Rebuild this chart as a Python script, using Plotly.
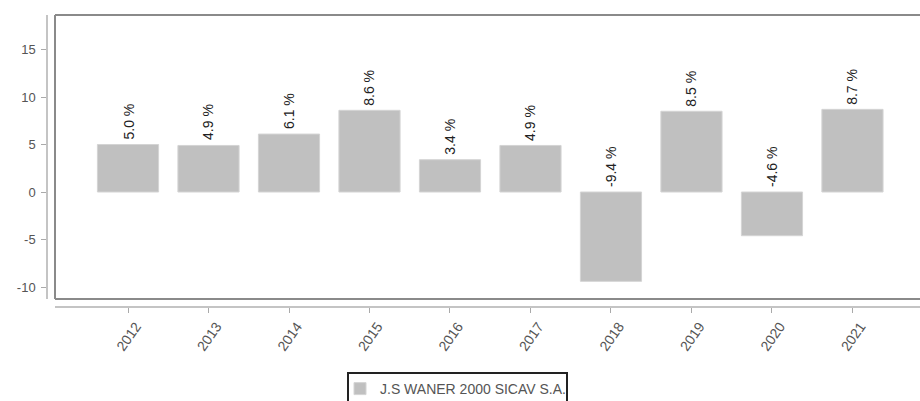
import plotly.graph_objects as go

years = ["2012", "2013", "2014", "2015", "2016", "2017", "2018", "2019", "2020", "2021"]
returns = [5.0, 4.9, 6.1, 8.6, 3.4, 4.9, -9.4, 8.5, -4.6, 8.7]
series_name = "J.S WANER 2000 SICAV S.A."
y_ticks = [-10, -5, 0, 5, 10, 15]
y_tick_text = ["-10", "-5", "0", "5", "10", "15"]

W, H = 920, 412
px_x = lambda p: p / W
px_y = lambda p: 1 - p / H

x0, x1 = 55, 920
yt, yb = 15, 299

idx = list(range(len(years)))

fig = go.Figure()
fig.add_trace(go.Bar(
    x=idx, y=returns, name=series_name,
    marker=dict(color="#c0c0c0", line=dict(color="#d4d4d4", width=1)),
    showlegend=True,
))

for i, v in zip(idx, returns):
    fig.add_annotation(
        x=i, y=max(v, 0), xref="x", yref="y",
        text=f"{v:.1f} %", textangle=-90, showarrow=False,
        yanchor="bottom", xanchor="center", yshift=3,
        font=dict(family="Liberation Sans", size=14, color="#222"),
    )

# inner box (top, left, bottom)
box_col = "#8a8a8a"
for (xa, ya, xb, yb_) in [(x0, yt, x1 + 5, yt), (x0, yt, x0, yb), (x0, yb, x1 + 5, yb)]:
    fig.add_shape(type="line", xref="paper", yref="paper",
                  x0=px_x(xa), y0=px_y(ya), x1=px_x(xb), y1=px_y(yb_),
                  line=dict(color=box_col, width=2))

# legend frame
fig.add_shape(type="rect", xref="paper", yref="paper",
              x0=px_x(348), y0=px_y(373), x1=px_x(567), y1=px_y(410),
              line=dict(color="#222", width=2), fillcolor="rgba(0,0,0,0)")

fig.update_layout(
    template="none",
    width=W, height=H,
    margin=dict(l=0, r=0, t=0, b=0),
    paper_bgcolor="white", plot_bgcolor="white",
    bargap=0.24,
    font=dict(family="Liberation Sans", size=13, color="#555"),
    xaxis=dict(
        range=[-0.907, 9.839],
        domain=[px_x(x0), 1.0],
        tickmode="array", tickvals=idx, ticktext=years,
        anchor="free", position=px_y(307),
        showline=True, linecolor="#c4c4c4", linewidth=1.5,
        ticks="outside", ticklen=5, tickcolor="#aaa", tickwidth=1,
        tickangle=-55, ticklabelshift=8,
        showgrid=False, zeroline=False, automargin=False,
        tickfont=dict(family="Liberation Sans", size=14, color="#555"),
    ),
    yaxis=dict(
        domain=[px_y(yb), px_y(yt)], range=[-11.26, 18.63],
        anchor="free", position=px_x(47),
        tickmode="array", tickvals=y_ticks, ticktext=y_tick_text,
        showline=True, linecolor="#c4c4c4", linewidth=1.5,
        ticks="outside", ticklen=5, tickcolor="#aaa", tickwidth=1,
        ticklabelstandoff=3,
        showgrid=False, zeroline=False, automargin=False,
        tickfont=dict(family="Liberation Sans", size=13, color="#555"),
    ),
    legend=dict(
        x=px_x(340), y=px_y(373), xanchor="left", yanchor="top",
        borderwidth=0, bgcolor="rgba(0,0,0,0)",
        font=dict(family="Liberation Sans", size=14, color="#555"),
    ),
)

fig.write_html(
    "out.html",
    config={"displayModeBar": False},
    post_script="document.body.style.margin='0';document.body.style.overflow='hidden';document.documentElement.style.overflow='hidden';",
)
